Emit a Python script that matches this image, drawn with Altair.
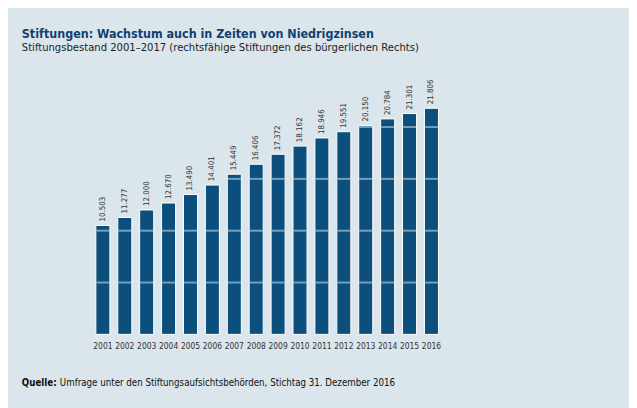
import altair as alt
import pandas as pd

years = [str(y) for y in range(2001, 2017)]
values = [10503, 11277, 12000, 12670, 13490, 14401, 15449, 16406, 17372,
          18162, 18946, 19551, 20150, 20784, 21301, 21806]
grid_values = [5000, 10000, 15000, 20000]

title_text = "Stiftungen: Wachstum auch in Zeiten von Niedrigzinsen"
subtitle_text = "Stiftungsbestand 2001–2017 (rechtsfähige Stiftungen des bürgerlichen Rechts)"
source_bold = "Quelle:"
source_text = "Umfrage unter den Stiftungsaufsichtsbehörden, Stichtag 31. Dezember 2016"

FONT = "DejaVu Sans Condensed, Liberation Sans Narrow, Roboto"
BG = "#dae5ec"
BAR = "#0c4f7c"

df = pd.DataFrame({
    "year": years,
    "value": values,
    "label": [f"{v:,}".replace(",", ".") for v in values],
})
grid_df = pd.DataFrame([{"year": y, "g": g} for y, v in zip(years, values)
                        for g in grid_values if g < v])

xs = alt.Scale(paddingInner=0.36, paddingOuter=0.18)
ys = alt.Scale(domain=[0, 25000])

x = alt.X("year:N", scale=xs, title=None,
          axis=alt.Axis(labelAngle=0, domain=False, ticks=False, labelPadding=7,
                        labelFontSize=8.5, labelColor="#333333", labelFont=FONT))
y = alt.Y("value:Q", scale=ys, title=None, axis=None)

bars = alt.Chart(df).mark_bar(color=BAR, stroke="white", strokeWidth=1).encode(x=x, y=y)

grid = alt.Chart(grid_df).mark_tick(color="white", opacity=0.45, thickness=2, size=13).encode(
    x=alt.X("year:N", scale=xs),
    y=alt.Y("g:Q", scale=ys),
)

labels = alt.Chart(df).mark_text(angle=270, align="left", baseline="middle", dx=4,
                                 fontSize=8, color="#333333", font=FONT).encode(
    x=alt.X("year:N", scale=xs), y=alt.Y("value:Q", scale=ys), text="label:N")

src_df = pd.DataFrame({"a": [source_bold], "b": [source_text]})
src_bold = alt.Chart(src_df).mark_text(align="left", baseline="alphabetic", fontSize=9.8,
                                       fontWeight="bold", color="#111111", font=FONT).encode(
    x=alt.value(-71), y=alt.value(314.5), text="a:N")
src_reg = alt.Chart(src_df).mark_text(align="left", baseline="alphabetic", fontSize=9.8,
                                      color="#111111", font=FONT).encode(
    x=alt.value(-32.5), y=alt.value(314.5), text="b:N")

chart = alt.layer(bars, grid, labels, src_bold, src_reg).properties(
    width=355, height=262.5,
    autosize=alt.AutoSizeParams(type="none"),
    padding={"left": 85, "top": 65.5, "right": 189, "bottom": 72},
    background=BG,
    title=alt.TitleParams(
        text=title_text, subtitle=subtitle_text, anchor="start", frame="group",
        dx=-71, dy=-22, font=FONT, fontSize=12.6, fontWeight="bold", color="#123f70",
        subtitleFont=FONT, subtitleFontSize=11.3, subtitleColor="#222222", subtitlePadding=2,
        offset=0,
    ),
).configure_view(stroke=None)

chart.save("out.html", embed_options={"renderer": "svg", "actions": False})
